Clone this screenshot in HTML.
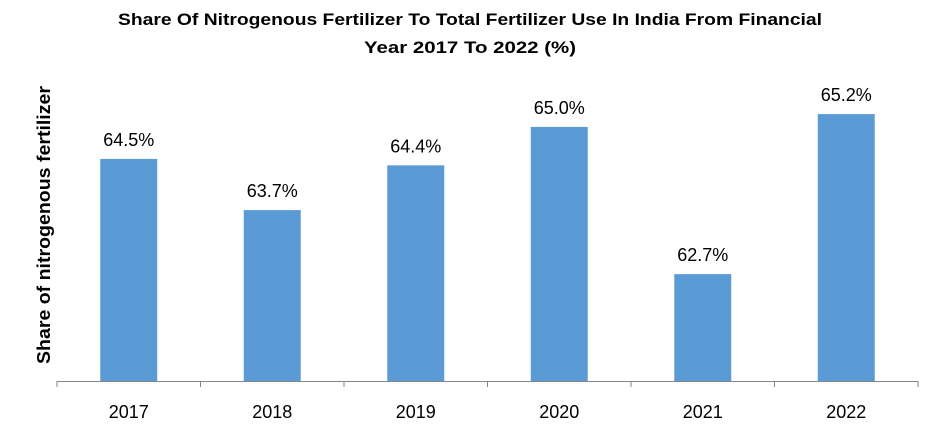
<!DOCTYPE html>
<html><head><meta charset="utf-8"><style>
body{margin:0;background:#fff;}
svg{display:block;font-family:"Liberation Sans",sans-serif;}
</style></head><body>
<svg id="chart" width="940" height="439" viewBox="0 0 940 439">
<text x="470" y="25" text-anchor="middle" font-size="17" font-weight="bold" fill="#000" textLength="704" lengthAdjust="spacingAndGlyphs">Share Of Nitrogenous Fertilizer To Total Fertilizer Use In India From Financial</text>
<text x="470" y="53" text-anchor="middle" font-size="17" font-weight="bold" fill="#000" textLength="212" lengthAdjust="spacingAndGlyphs">Year 2017 To 2022 (%)</text>
<text transform="translate(50,225) rotate(-90)" text-anchor="middle" font-size="18" font-weight="bold" fill="#000" textLength="278" lengthAdjust="spacingAndGlyphs">Share of nitrogenous fertilizer</text>
<g id="bars"></g>
</svg>
<script>
const categories=["2017","2018","2019","2020","2021","2022"];
const values=[64.5,63.7,64.4,65.0,62.7,65.2];
const valueLabels=["64.5%","63.7%","64.4%","65.0%","62.7%","65.2%"];
const ns="http://www.w3.org/2000/svg";
const svg=document.getElementById("chart");
const g=document.getElementById("bars");
const x0=57,x1=918,baseY=381,yMin=61.03,pxPer=64;
const bw=(x1-x0)/categories.length;
function xC(i){return x0+bw*(i+0.5);}
function yV(v){return baseY-(v-yMin)*pxPer;}
function mk(t,a){const e=document.createElementNS(ns,t);for(const k in a)e.setAttribute(k,a[k]);return e;}
categories.forEach((c,i)=>{
  const top=yV(values[i]);
  const r=mk("rect",{x:xC(i)-28.5,y:top,width:57,height:baseY-top,fill:"#5B9BD5"});
  
  
  g.appendChild(r);
  const t=mk("text",{x:xC(i),y:top-13,"text-anchor":"middle","font-size":"18",fill:"#000"});
  t.textContent=valueLabels[i];
  
  
  g.appendChild(t);
  const l=mk("text",{x:xC(i),y:418,"text-anchor":"middle","font-size":"18",fill:"#000"});
  l.textContent=c;
  
  
  g.appendChild(l);
});
const ax=mk("line",{x1:x0,x2:x1,y1:baseY+0.5,y2:baseY+0.5,stroke:"#868686","stroke-width":1});


g.appendChild(ax);
for(let i=0;i<=categories.length;i++){
  const tk=mk("line",{x1:x0+bw*i,x2:x0+bw*i,y1:baseY,y2:baseY+6,stroke:"#868686","stroke-width":1});
  
  
  g.appendChild(tk);
}
</script>
</body></html>
